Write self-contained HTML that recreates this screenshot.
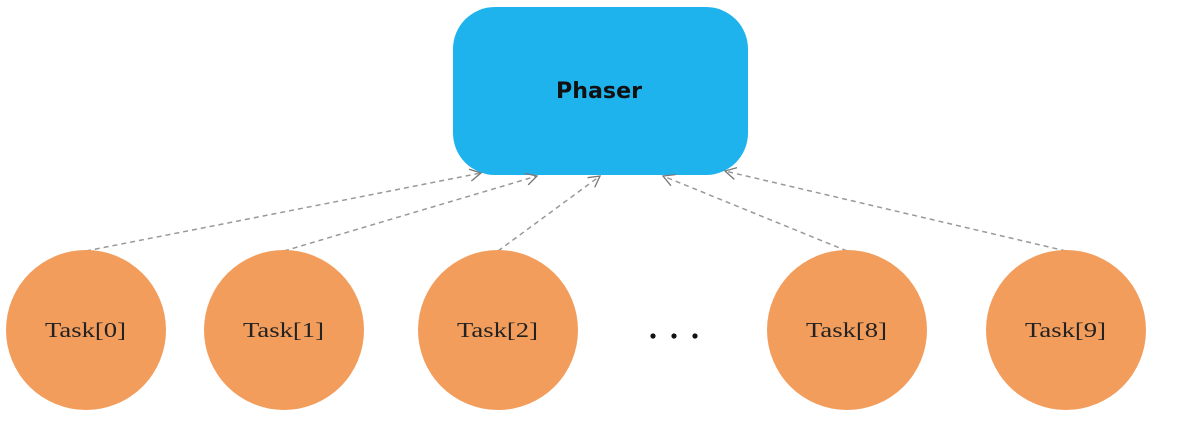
<!DOCTYPE html>
<html><head><meta charset="utf-8"><style>
html,body{margin:0;padding:0;background:#fff;}
svg{display:block;}
</style></head><body>
<svg width="1191" height="427" viewBox="0 0 1191 427" xmlns="http://www.w3.org/2000/svg">
<defs>
<marker id="a" markerWidth="14" markerHeight="14" refX="12" refY="7" orient="auto" markerUnits="userSpaceOnUse">
<path d="M1,1 L12,7 L1,13" fill="none" stroke="#777" stroke-width="1.3"/>
</marker>
</defs>
<rect x="453" y="7" width="295" height="168" rx="42" fill="#1fb3ee"/>
<text x="556" y="98" textLength="86" lengthAdjust="spacingAndGlyphs" font-family="DejaVu Sans, sans-serif" font-weight="bold" font-size="22" fill="#111">Phaser</text>
<g stroke="#999" stroke-width="1.5" stroke-dasharray="5,4" fill="none" marker-end="url(#a)">
<line x1="86" y1="251" x2="481" y2="173"/>
<line x1="284" y1="251" x2="537" y2="176"/>
<line x1="498" y1="251" x2="600" y2="176"/>
<line x1="847" y1="251" x2="663" y2="176"/>
<line x1="1066" y1="251" x2="725" y2="171"/>
</g>
<g fill="#f29d5c">
<circle cx="86" cy="330" r="80"/>
<circle cx="284" cy="330" r="80"/>
<circle cx="498" cy="330" r="80"/>
<circle cx="847" cy="330" r="80"/>
<circle cx="1066" cy="330" r="80"/>
</g>
<g font-family="Liberation Serif, serif" font-size="21" fill="#222" lengthAdjust="spacingAndGlyphs">
<text x="45" y="337" textLength="81" lengthAdjust="spacingAndGlyphs">Task[0]</text>
<text x="243" y="337" textLength="81" lengthAdjust="spacingAndGlyphs">Task[1]</text>
<text x="457" y="337" textLength="81" lengthAdjust="spacingAndGlyphs">Task[2]</text>
<text x="806" y="337" textLength="81" lengthAdjust="spacingAndGlyphs">Task[8]</text>
<text x="1025" y="337" textLength="81" lengthAdjust="spacingAndGlyphs">Task[9]</text>
</g>
<g fill="#111">
<circle cx="653" cy="336" r="2.6"/>
<circle cx="674" cy="336" r="2.6"/>
<circle cx="695" cy="336" r="2.6"/>
</g>
</svg>
</body></html>
